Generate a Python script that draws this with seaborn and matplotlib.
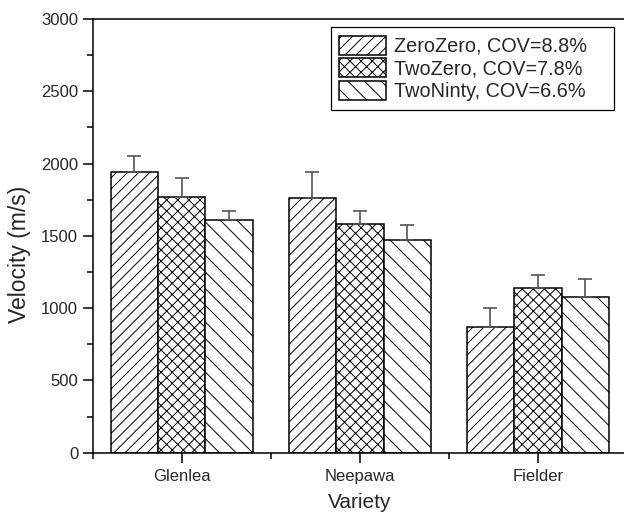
import numpy as np
import pandas as pd
import matplotlib
matplotlib.use("Agg")
import matplotlib.pyplot as plt
from matplotlib.ticker import MultipleLocator, FixedLocator
import seaborn as sns

# ---- data ----
varieties = ["Glenlea", "Neepawa", "Fielder"]
treatments = ["ZeroZero, COV=8.8%", "TwoZero, COV=7.8%", "TwoNinty, COV=6.6%"]
zerozero = [1940, 1760, 870]
twozero = [1770, 1580, 1139]
twoninty = [1607, 1473, 1079]
err_zerozero = [114, 184, 129]
err_twozero = [128, 90, 92]
err_twoninty = [67, 102, 120]
y_ticks = [0, 500, 1000, 1500, 2000, 2500, 3000]

means = [zerozero, twozero, twoninty]
errs = [err_zerozero, err_twozero, err_twoninty]
df = pd.DataFrame({
    "Variety": [v for _ in treatments for v in varieties],
    "Treatment": [t for t in treatments for _ in varieties],
    "Velocity": [m for series in means for m in series],
})

sns.set_style("ticks")
plt.rcParams["font.family"] = ["Liberation Sans", "DejaVu Sans"]
plt.rcParams["hatch.linewidth"] = 0.7

fig = plt.figure(figsize=(6.24, 5.15), dpi=100)
ax = fig.add_axes([0.1486, 0.121, 0.856, 0.842])

sns.barplot(data=df, x="Variety", y="Velocity", hue="Treatment",
            order=varieties, hue_order=treatments,
            palette=["white"] * 3, saturation=1, edgecolor="black",
            linewidth=1.1, errorbar=None, width=0.8, gap=0, ax=ax, legend=False)

hatches = ["///", "xxx", "\\\\"]
for cont, h, e in zip(ax.containers, hatches, errs):
    xs, tops = [], []
    for bar in cont:
        bar.set_hatch(h)
        bar.set_edgecolor("black")
        xs.append(bar.get_x() + bar.get_width() / 2)
        tops.append(bar.get_height())
    ax.errorbar(xs, tops, yerr=[np.zeros(len(e)), e], fmt="none",
                ecolor="#555555", elinewidth=1.2, capsize=5, capthick=1.2,
                zorder=1)

ax.set_xlim(-0.5, 2.5)
ax.set_ylim(0, 3000)
ax.set_yticks(y_ticks)
ax.yaxis.set_minor_locator(MultipleLocator(250))
ax.xaxis.set_minor_locator(FixedLocator([-0.5, 0.5, 1.5, 2.5]))
ax.tick_params(axis="both", which="major", direction="out", length=7, width=1.1,
               labelsize=12, color="black")
ax.tick_params(axis="x", which="major", pad=5)
ax.tick_params(axis="both", which="minor", direction="out", length=4, width=1.1,
               color="black")
for sp in ax.spines.values():
    sp.set_visible(True)
    sp.set_linewidth(1.1)
    sp.set_color("black")

ax.set_xlabel("Variety", fontsize=15, labelpad=6)
ax.set_ylabel("Velocity (m/s)", fontsize=16.5, labelpad=7)
ax.yaxis.label.set_y(0.458)

x0 = 330.7 / 624
y1 = 1 - 27.3 / 515
w = (614 - 330.7) / 624
leg = ax.legend(handles=ax.containers, labels=treatments,
                loc="upper left", bbox_to_anchor=(x0, y1 - 0.2, w, 0.2),
                bbox_transform=fig.transFigure, borderaxespad=0, mode="expand",
                fontsize=14.3, frameon=True, fancybox=False, framealpha=1,
                edgecolor="black", handlelength=2.35, handleheight=1.1,
                handletextpad=0.4, labelspacing=0.12, borderpad=0.42)
leg.get_frame().set_linewidth(0.9)

fig.savefig("out.png", dpi=100)
